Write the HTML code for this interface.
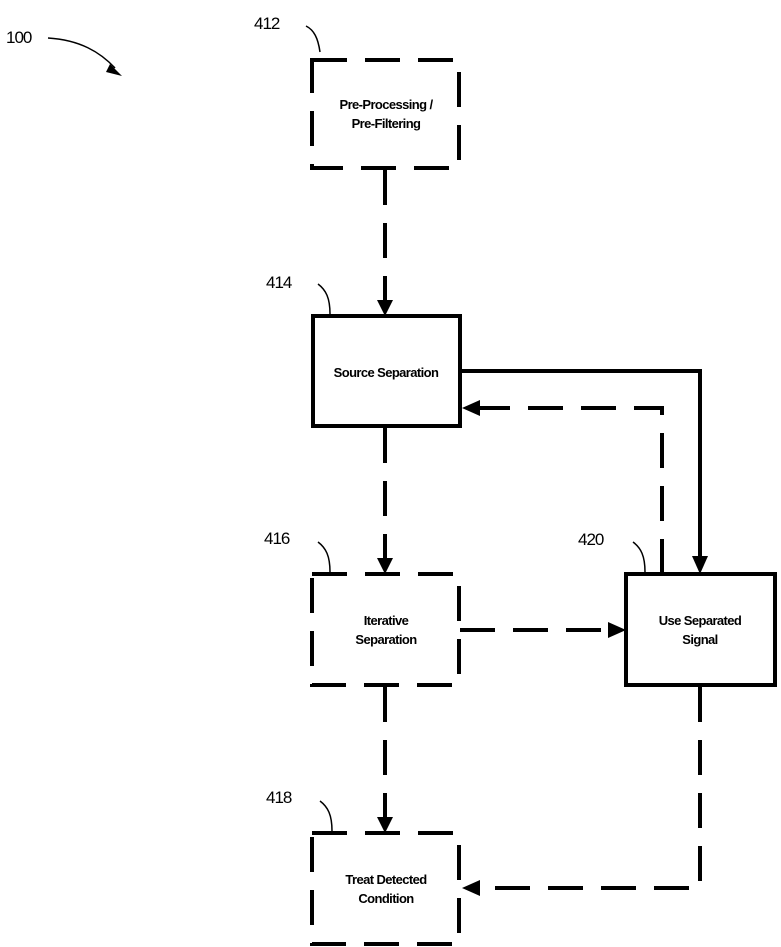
<!DOCTYPE html>
<html><head><style>body{margin:0;background:#fff}svg{display:block}</style></head><body>
<svg width="781" height="947" viewBox="0 0 781 947" xmlns="http://www.w3.org/2000/svg" font-family="Liberation Sans, Arial, sans-serif">
<defs>
<marker id="a" markerWidth="8" markerHeight="8" refX="7" refY="4" orient="auto" markerUnits="userSpaceOnUse" viewBox="0 0 8 8"><path d="M0,0 L8,4 L0,8z" fill="#000"/></marker>
</defs>
<g fill="none" stroke="#000" stroke-width="4">
<g stroke-dasharray="35,18">
<rect x="312" y="60" width="147" height="108"/>
<rect x="312" y="574" width="147" height="111"/>
<rect x="312" y="833" width="147" height="111"/>
<path d="M385 170 V300"/>
<path d="M385 428 V558"/>
<path d="M385 687 V817"/>
<path d="M662 574 V408 H480"/>
<path d="M460 630 H608"/>
<path d="M700 687 V888 H480"/>
</g>
<rect x="313" y="316" width="147" height="110"/>
<rect x="626" y="574" width="149" height="111"/>
<path d="M460 371 H700 V556"/>
<path d="M320 52 C318 38 314 30 306 26" stroke-width="1.5"/>
<path d="M330 314 C330 298 326 290 318 284" stroke-width="1.5"/>
<path d="M330 572 C330 556 326 548 318 542" stroke-width="1.5"/>
<path d="M332 831 C332 815 328 807 320 801" stroke-width="1.5"/>
<path d="M645 572 C645 556 641 548 633 542" stroke-width="1.5"/>
<path d="M48 38 C80 40 100 52 115 68" stroke-width="1.5"/>
</g>
<g fill="#000">
<path d="M377 300 L393 300 L385 316z"/>
<path d="M377 558 L393 558 L385 574z"/>
<path d="M377 817 L393 817 L385 833z"/>
<path d="M692 556 L708 556 L700 574z"/>
<path d="M480 400 L480 416 L462 408z"/>
<path d="M608 622 L608 638 L626 630z"/>
<path d="M480 880 L480 896 L462 888z"/>
<path d="M110 64 L122 76 L106 72z"/>
</g>
<g font-size="13" font-weight="bold" text-anchor="middle" fill="#000" letter-spacing="-0.6">
<text x="386" y="109">Pre-Processing /</text>
<text x="386" y="128">Pre-Filtering</text>
<text x="386" y="377">Source Separation</text>
<text x="386" y="625">Iterative</text>
<text x="386" y="644">Separation</text>
<text x="700" y="625">Use Separated</text>
<text x="700" y="644">Signal</text>
<text x="386" y="884">Treat Detected</text>
<text x="386" y="903">Condition</text>
</g>
<g font-size="17" fill="#000" letter-spacing="-1">
<text x="6" y="43">100</text>
<text x="254" y="29">412</text>
<text x="266" y="288">414</text>
<text x="264" y="544">416</text>
<text x="578" y="545">420</text>
<text x="266" y="803">418</text>
</g>
</svg>
</body></html>
